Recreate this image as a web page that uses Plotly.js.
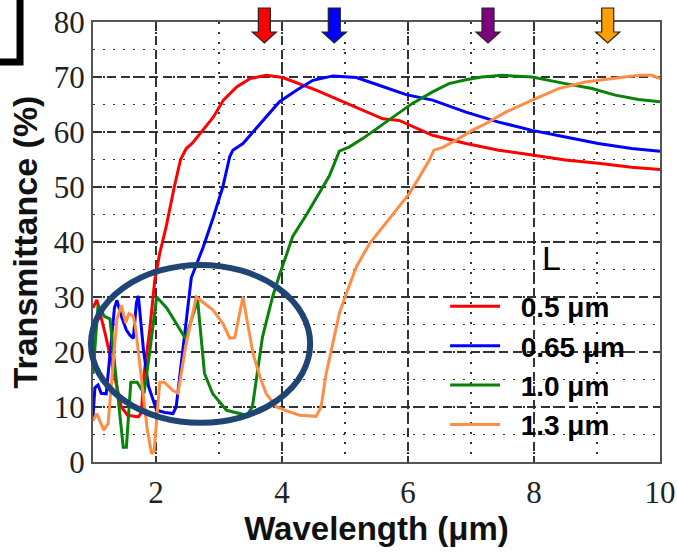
<!DOCTYPE html>
<html>
<head>
<meta charset="utf-8">
<script src="https://cdn.plot.ly/plotly-3.0.1.min.js"></script>
<style>html,body{margin:0;padding:0;background:#fff;}#chart{width:677px;height:553px;}</style>
</head>
<body>
<div id="chart"></div>
<script>
// ---- data ----
const seriesNames = ['0.5 \u03bcm', '0.65 \u03bcm', '1.0 \u03bcm', '1.3 \u03bcm'];
const legendTitle = 'L';

const xRed = [1.0, 1.06, 1.2, 1.45, 1.55, 1.72, 1.77, 1.8, 1.9, 1.98, 2.06, 2.16, 2.29, 2.39, 2.48, 2.58, 2.74, 2.91, 3.07, 3.28, 3.49, 3.75, 4.01, 4.28, 4.54, 4.91, 5.28, 5.6, 5.86, 6.39, 6.92, 7.44, 7.97, 8.5, 9.02, 9.55, 10.0];
const yRed = [28, 29.5, 23, 10, 8.5, 8.2, 9, 15, 24, 33, 38, 42.7, 50, 55, 57, 58, 60.3, 62.7, 65.8, 68.2, 69.7, 70.3, 69.9, 68.8, 67.6, 65.8, 63.9, 62.4, 62.1, 59.4, 57.9, 56.7, 55.8, 54.9, 54.3, 53.6, 53.2];

const xBlue = [1.0, 1.03, 1.08, 1.13, 1.21, 1.27, 1.34, 1.38, 1.45, 1.53, 1.59, 1.64, 1.69, 1.72, 1.8, 1.88, 2.01, 2.14, 2.27, 2.32, 2.43, 2.56, 2.75, 2.91, 3.06, 3.17, 3.22, 3.38, 3.54, 3.75, 3.96, 4.23, 4.49, 4.81, 4.96, 5.18, 5.54, 5.97, 6.39, 6.92, 7.44, 7.97, 8.5, 9.02, 9.55, 10.0];
const yBlue = [8.2, 13.5, 14, 12.5, 12.4, 20, 28, 29.4, 26.5, 24, 23, 22.5, 29, 30.2, 20.5, 13.8, 9.4, 9, 8.8, 10, 21, 33.5, 39.1, 44.5, 50, 55.5, 56.7, 57.9, 60, 62.7, 65.5, 67.6, 69.4, 70.2, 70.1, 69.9, 68.5, 66.8, 65.8, 63.6, 61.8, 60.3, 59.1, 57.9, 57, 56.5];

const xGreen = [1.0, 1.08, 1.18, 1.27, 1.4, 1.48, 1.53, 1.6, 1.7, 1.81, 1.9, 2.01, 2.17, 2.38, 2.47, 2.66, 2.77, 2.9, 3.12, 3.44, 3.53, 3.69, 3.85, 3.96, 4.17, 4.39, 4.6, 4.75, 4.91, 5.07, 5.28, 5.54, 5.81, 6.07, 6.39, 6.65, 6.92, 7.17, 7.49, 7.97, 8.5, 8.92, 9.29, 9.66, 10.0];
const yGreen = [16, 28.5, 26.5, 26, 11.5, 2.7, 2.7, 14.5, 14.5, 12.5, 20, 30, 28, 24, 22.4, 29.5, 16.1, 12.4, 9.4, 8.5, 10, 22.7, 30, 34, 41, 45, 49, 52, 56.5, 57.3, 58.8, 60.9, 63, 65.2, 67.3, 68.8, 69.5, 70, 70.3, 70, 68.8, 67.9, 66.7, 65.9, 65.5];

const xOrange = [1.0, 1.06, 1.17, 1.24, 1.32, 1.38, 1.45, 1.52, 1.57, 1.64, 1.68, 1.79, 1.86, 1.93, 1.97, 2.06, 2.13, 2.27, 2.35, 2.47, 2.64, 2.75, 2.91, 3.06, 3.17, 3.25, 3.38, 3.54, 3.65, 3.75, 3.91, 4.12, 4.28, 4.54, 4.62, 4.7, 4.81, 4.91, 5.02, 5.18, 5.39, 5.6, 5.81, 6.02, 6.18, 6.34, 6.41, 6.55, 6.76, 7.02, 7.23, 7.55, 7.97, 8.39, 8.81, 9.24, 9.66, 9.87, 10.0];
const yOrange = [7.5, 8.8, 5.8, 7, 18, 26, 28.5, 25.3, 27, 26.5, 24, 13.6, 6, 1.5, 2, 14.5, 14.5, 13, 12.5, 21, 30, 29, 27.6, 25.2, 22.5, 22.6, 30, 19.7, 15.5, 12.4, 10, 9.1, 8.5, 8.3, 10, 16, 22, 27, 30.6, 35.5, 39.7, 42.7, 45.8, 48.8, 51.8, 54.9, 56.7, 57.2, 58.5, 60.3, 61.5, 63.6, 65.8, 67.9, 69.1, 69.7, 70.3, 70.3, 69.7];

const xTickVals = [2, 4, 6, 8, 10];
const yTickVals = [0, 10, 20, 30, 40, 50, 60, 70, 80];
const arrowX = [3.72, 4.83, 7.27, 9.17];
const arrowColors = ['#ff0000', '#0000ff', '#7f007f', '#ffa000'];
const lineColors = ['#ff0000', '#0000ff', '#0a820a', '#ff8d45'];

// ---- build chart ----
const xs = [xRed, xBlue, xGreen, xOrange];
const ys = [yRed, yBlue, yGreen, yOrange];
const traces = xs.map((x, i) => ({
  x: x, y: ys[i], type: 'scatter', mode: 'lines', name: '\u00a0\u00a0' + seriesNames[i],
  line: {color: lineColors[i], width: 3}
}));

const X_MIN = 1, X_MAX = 10;
const toPaperX = v => (v - X_MIN) / (X_MAX - X_MIN);

const shapes = [];
arrowX.forEach((ax, i) => {
  shapes.push({
    type: 'path', xref: 'paper', yref: 'paper',
    xsizemode: 'pixel', ysizemode: 'pixel',
    xanchor: toPaperX(ax), yanchor: 1,
    path: 'M-6,14 L6,14 L6,-10 L12,-10 L0,-21 L-12,-10 L-6,-10 Z',
    fillcolor: arrowColors[i], line: {color: '#222', width: 1.2}, layer: 'above'
  });
});
// highlight ellipse
shapes.push({type: 'circle', xref: 'paper', yref: 'paper',
  x0: -0.0035, x1: 0.383, y0: 0.089, y1: 0.448,
  line: {color: '#1f4574', width: 6}, layer: 'above'});
// corner bracket
shapes.push({type: 'path', xref: 'paper', yref: 'paper',
  path: 'M-0.175,0.909 L-0.1287,0.909 L-0.1287,1.07',
  line: {color: '#000', width: 7}, layer: 'above'});

const gridCol = '#333';
const layout = {
  width: 677, height: 553,
  margin: {l: 93, r: 17, t: 22, b: 91},
  paper_bgcolor: '#fff', plot_bgcolor: '#fff',
  showlegend: true,
  xaxis: {
    range: [X_MIN, X_MAX], tickvals: xTickVals, ticktext: xTickVals.map(String),
    tickfont: {family: 'Liberation Serif', size: 31, color: '#222'},
    showgrid: true, gridcolor: gridCol, gridwidth: 1.4, griddash: '9px,5px',
    minor: {dtick: 1, tick0: 1, showgrid: true, gridcolor: gridCol, gridwidth: 1.4, griddash: '2px,8px'},
    showline: true, mirror: true, linecolor: '#555', linewidth: 2, zeroline: false,
    ticks: '', ticklabelstandoff: 2,
    title: {text: 'Wavelength (\u03bcm)', font: {family: 'Liberation Sans', size: 33, weight: 'bold', color: '#111'}, standoff: 6}
  },
  yaxis: {
    range: [0, 80], tickvals: yTickVals, ticktext: yTickVals.map(String),
    tickfont: {family: 'Liberation Serif', size: 31, color: '#222'},
    showgrid: true, gridcolor: gridCol, gridwidth: 1.4, griddash: '9px,5px',
    minor: {dtick: 5, tick0: 0, showgrid: true, gridcolor: gridCol, gridwidth: 1.4, griddash: '2px,8px'},
    showline: true, mirror: true, linecolor: '#555', linewidth: 2, zeroline: false,
    ticks: '',
    title: {text: 'Transmittance (%)', font: {family: 'Liberation Sans', size: 34, weight: 'bold', color: '#111'}, standoff: 6}
  },
  legend: {
    x: 0.621, y: 0.41, xanchor: 'left', yanchor: 'top',
    bgcolor: 'rgba(0,0,0,0)', borderwidth: 0,
    font: {family: 'Liberation Sans', size: 28, weight: 'bold', color: '#000'},
    itemwidth: 50
  },
  annotations: [{
    text: legendTitle, xref: 'paper', yref: 'paper', x: 0.808, y: 0.4636,
    xanchor: 'center', yanchor: 'middle', showarrow: false,
    font: {family: 'Liberation Sans', size: 34, color: '#000'}
  }],
  shapes: shapes
};

Plotly.newPlot('chart', traces, layout, {displayModeBar: false, staticPlot: true});
</script>
</body>
</html>
